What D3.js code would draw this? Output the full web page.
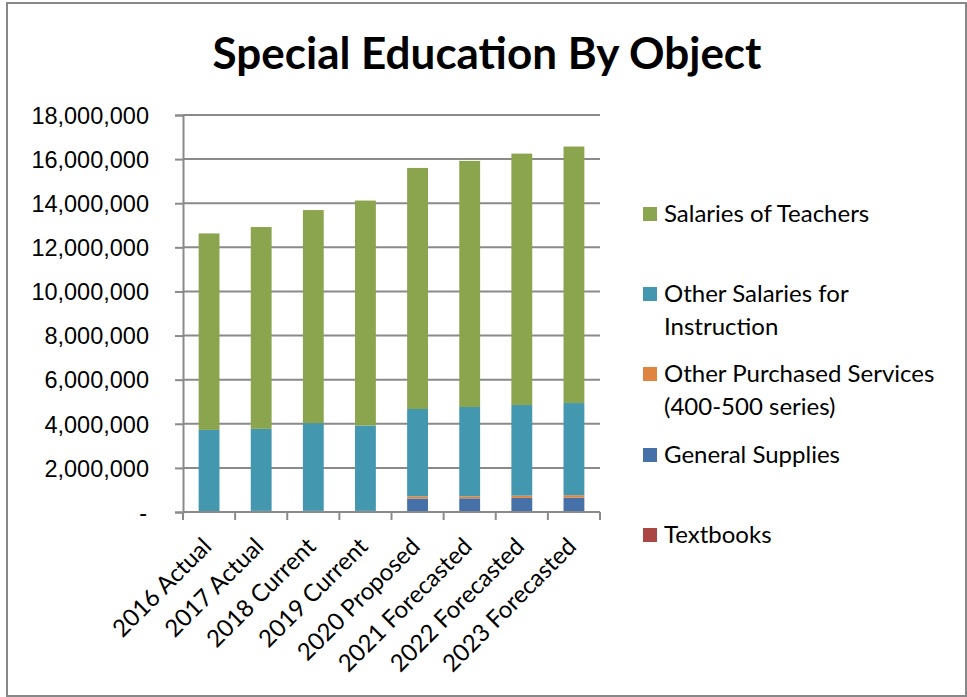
<!DOCTYPE html>
<html><head><meta charset="utf-8">
<script src="https://cdn.jsdelivr.net/npm/d3@7"></script>
<style>html,body{margin:0;padding:0;background:#fff;} svg{display:block;font-family:Lato,"Open Sans",sans-serif;}</style>
</head><body>
<svg id="c" width="967" height="697"></svg>
<script>
const categories = ["2016 Actual","2017 Actual","2018 Current","2019 Current","2020 Proposed","2021 Forecasted","2022 Forecasted","2023 Forecasted"];
const seriesNames = ["Textbooks","General Supplies","Other Purchased Services (400-500 series)","Other Salaries for Instruction","Salaries of Teachers"];
const textbooks      = [10000, 10000, 10000, 10000, 30000, 30000, 30000, 30000];
const generalSupplies= [20000, 30000, 30000, 30000, 580000, 590000, 610000, 620000];
const otherPurchased = [10000, 10000, 10000, 10000, 100000, 90000, 100000, 110000];
const otherSalaries  = [3680000, 3720000, 3980000, 3870000, 3960000, 4050000, 4110000, 4180000];
const teacherSalaries= [8910000, 9150000, 9660000, 10200000, 10930000, 11160000, 11400000, 11630000];
const yTicks = [0,2000000,4000000,6000000,8000000,10000000,12000000,14000000,16000000,18000000];
const colors = ["#AA4644","#4571A8","#E08540","#4398B0","#8BA54E"];
const legendLines = {
  "Salaries of Teachers":["Salaries of Teachers"],
  "Other Salaries for Instruction":["Other Salaries for","Instruction"],
  "Other Purchased Services (400-500 series)":["Other Purchased Services","(400-500 series)"],
  "General Supplies":["General Supplies"],
  "Textbooks":["Textbooks"]
};

const svg = d3.select("#c");
svg.append("rect").attr("x",7).attr("y",3).attr("width",959).attr("height",693)
  .attr("fill","#fff").attr("stroke","#888").attr("stroke-width",2);

const L=183,R=600,T=115,B=512;
const x = d3.scaleBand().domain(categories).range([L,R]).paddingInner(0.6).paddingOuter(0.3);
const y = d3.scaleLinear().domain([0,18000000]).range([B,T]);

svg.append("g").selectAll("line").data(yTicks.slice(1)).join("line")
  .attr("x1",L).attr("x2",R).attr("y1",d=>y(d)).attr("y2",d=>y(d))
  .attr("stroke","#8a8a8a").attr("stroke-width",2);

const rows = categories.map((c,i)=>({cat:c,
  "Textbooks":textbooks[i],"General Supplies":generalSupplies[i],
  "Other Purchased Services (400-500 series)":otherPurchased[i],
  "Other Salaries for Instruction":otherSalaries[i],"Salaries of Teachers":teacherSalaries[i]}));
const stack = d3.stack().keys(seriesNames)(rows);

svg.append("g").selectAll("g").data(stack).join("g").attr("fill",(d,i)=>colors[i])
  .selectAll("rect").data(d=>d).join("rect")
  .attr("x",d=>x(d.data.cat)).attr("width",x.bandwidth())
  .attr("y",d=>y(d[1])).attr("height",d=>Math.max(0,y(d[0])-y(d[1])));

const yAxis = d3.axisLeft(y).tickValues(yTicks).tickSize(8).tickPadding(26)
  .tickFormat(d=>d===0?"-":d3.format(",")(d));
const ya = svg.append("g").attr("transform",`translate(${L},0)`).call(yAxis);
ya.select(".domain").attr("stroke","#8a8a8a").attr("stroke-width",2);
ya.selectAll(".tick line").attr("stroke","#8a8a8a").attr("stroke-width",2);
ya.selectAll(".tick text").attr("font-size",23.5).attr("fill","#000").attr("dy","0.35em");
ya.selectAll(".tick text").filter(d=>d===0).attr("x",-36);

const xa = svg.append("g").attr("transform",`translate(0,${B})`);
xa.append("line").attr("x1",L).attr("x2",R).attr("stroke","#8a8a8a").attr("stroke-width",2);
const bounds = d3.range(categories.length+1).map(i=>L+i*(R-L)/categories.length);
xa.selectAll(".tk").data(bounds).join("line").attr("class","tk")
  .attr("x1",d=>d).attr("x2",d=>d).attr("y1",0).attr("y2",8)
  .attr("stroke","#8a8a8a").attr("stroke-width",2);
xa.selectAll("text").data(categories).join("text")
  .attr("transform",d=>`translate(${x(d)+x.bandwidth()/2-2},${30}) rotate(-45)`)
  .attr("text-anchor","end").attr("font-size",24).attr("fill","#000").attr("dy","0.35em")
  .text(d=>d);

svg.append("text").attr("x",487).attr("y",69).attr("text-anchor","middle")
  .attr("font-size",44).attr("font-weight","bold").attr("fill","#000")
  .text("Special Education By Object");

const legendY = {"Salaries of Teachers":214,"Other Salaries for Instruction":294,
  "Other Purchased Services (400-500 series)":374,"General Supplies":455,"Textbooks":535};
const lg = svg.append("g");
seriesNames.slice().reverse().forEach(name=>{
  const i = seriesNames.indexOf(name);
  const cy = legendY[name];
  lg.append("rect").attr("x",643).attr("y",cy-7).attr("width",14).attr("height",14).attr("fill",colors[i]);
  legendLines[name].forEach((ln,j)=>{
    lg.append("text").attr("x",664).attr("y",cy+j*33).attr("dy","0.35em")
      .attr("font-size",24).attr("fill","#000").text(ln);
  });
});
</script>
</body></html>
